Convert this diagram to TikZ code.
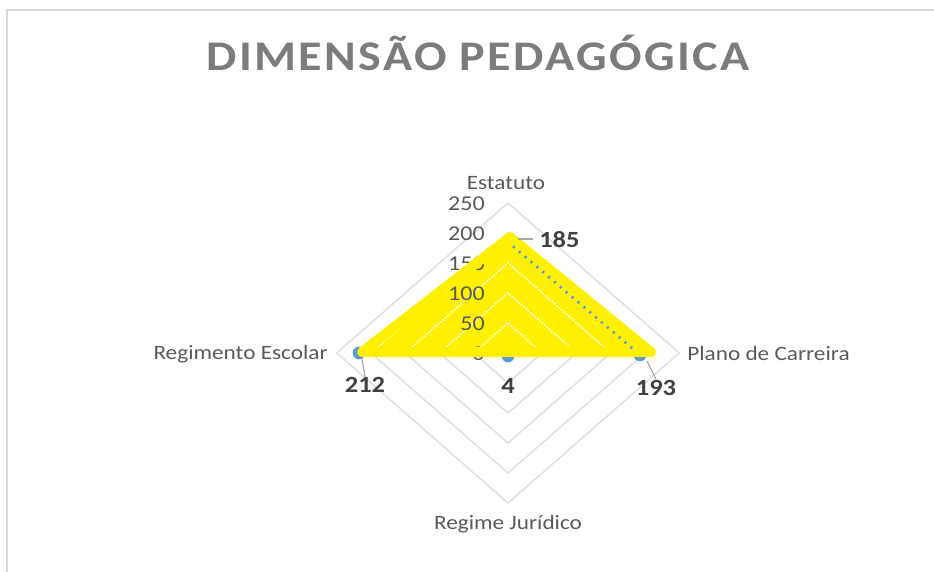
\documentclass[tikz,border=0pt]{standalone}
\usepackage{fontspec}
\setmainfont{Carlito}
\newfontfamily\titlefont[LetterSpace=5]{Carlito}
\definecolor{framegray}{RGB}{217,217,217}
\definecolor{gridgray}{RGB}{222,222,222}
\definecolor{labelgray}{RGB}{89,89,89}
\definecolor{titlegray}{RGB}{124,124,124}
\definecolor{valuegray}{RGB}{64,64,64}
\definecolor{seriesblue}{RGB}{91,155,213}
\definecolor{markyellow}{RGB}{255,240,0}

\begin{document}
\begin{tikzpicture}[x=0.025cm, y=-0.025cm]
    \tikzstyle{frame_style} = [framegray, line width=2pt]
    \tikzstyle{grid_style} = [gridgray, line width=1pt]
    \tikzstyle{white_grid} = [white, dash pattern=on 1pt off 1.2pt, line width=1.3pt]
    \tikzstyle{cat_style} = [labelgray, inner sep=0pt, xscale=1.14, font=\fontsize{14.5}{17}\selectfont]
    \tikzstyle{tick_style} = [labelgray, inner sep=0pt, xscale=1.14, anchor=base east, font=\fontsize{15}{18}\selectfont]
    \tikzstyle{value_style} = [valuegray, inner sep=0pt, xscale=1.14, font=\bfseries\fontsize{16.5}{19}\selectfont]
    \tikzstyle{marker_style} = [circle, fill=seriesblue, inner sep=0pt, minimum size=9pt]
    \tikzstyle{leader_style} = [gray!70, line width=0.8pt]

    \def\cx{508}
    \def\cy{353}
    \def\rx{0.685}
    \def\ry{0.6}

    \useasboundingbox (0,0) rectangle (934,572);

    % chart frame
    \coordinate (f-tr) at (934,10);
    \coordinate (f-tl) at (7,10);
    \coordinate (f-bl) at (7,572);
    \draw[frame_style] (f-tr) -- (f-tl) -- (f-bl);

    \node[titlegray, anchor=base, xscale=1.14, font=\titlefont\bfseries\fontsize{30}{36}\selectfont]
      (title) at (478,70) {DIMENSÃO PEDAGÓGICA};

    % grid
    \foreach \v in {50,100,...,250} {
      \draw[grid_style] ({\cx-\v*\rx},\cy) -- (\cx,{\cy-\v*\ry}) -- ({\cx+\v*\rx},\cy) -- (\cx,{\cy+\v*\ry}) -- cycle;
    }

    \node[marker_style] (m-est) at (508,242) {};
    \node[marker_style] (m-pla) at (640,355) {};
    \node[marker_style] (m-jur) at (508,356) {};
    \node[marker_style] (m-reg) at (359,353) {};

    % yellow area
    \coordinate (y-l) at (362,352);
    \coordinate (y-t) at (510,237);
    \coordinate (y-r) at (651,352);
    \fill[markyellow] (y-l) -- (y-t) -- (y-r) -- cycle;
    \begin{scope}
      \clip (y-l) -- (y-t) -- (y-r) -- cycle;
      \foreach \v in {50,100,150,200} {
        \draw[white_grid] ({\cx-\v*\rx},\cy) -- (\cx,{\cy-\v*\ry}) -- ({\cx+\v*\rx},\cy);
      }
    \end{scope}

    \foreach \v in {0,50,...,250} {
      \node[tick_style] (t-\v) at (485,{\cy-\v*\ry+7}) {\v};
    }

    \draw[markyellow, line width=7pt, line join=round, line cap=round] (y-l) -- (y-t) -- (y-r) -- cycle;
    \draw[seriesblue, line width=2pt, dash pattern=on 1.5pt off 4pt] (m-est) -- (m-pla);

    % category labels
    \node[cat_style, anchor=base] (c-est) at (506,189) {Estatuto};
    \node[cat_style, anchor=base west] (c-pla) at (687,360) {Plano de Carreira};
    \node[cat_style, anchor=base] (c-jur) at (508,529) {Regime Jurídico};
    \node[cat_style, anchor=base east] (c-reg) at (328,359) {Regimento Escolar};

    % values
    \node[value_style, anchor=base west] (v-est) at (539,247) {185};
    \node[value_style, anchor=base] (v-pla) at (656,395) {193};
    \node[value_style, anchor=base] (v-jur) at (508,393) {4};
    \node[value_style, anchor=base] (v-reg) at (365,392) {212};

    \coordinate (l-est) at (518,239);
    \coordinate (l-pla) at (647,361);
    \coordinate (l-reg) at (362,359);
    \draw[leader_style] (l-est) -- ([xshift=-4pt]v-est.west |- l-est);
    \draw[leader_style] (l-pla) -- (v-pla.north);
    \draw[leader_style] (l-reg) -- (v-reg.north);
\end{tikzpicture}
\end{document}
